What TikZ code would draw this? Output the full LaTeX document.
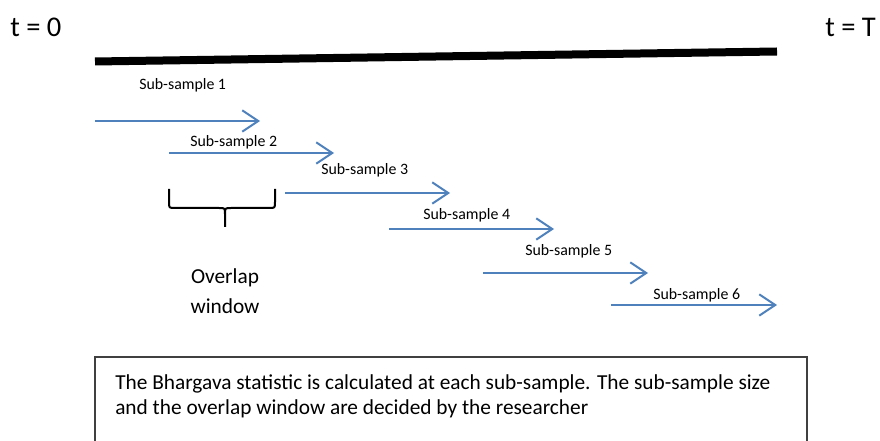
\documentclass[tikz,border=0pt]{standalone}
\usepackage{fontspec}
\setmainfont{Carlito}
\usetikzlibrary{arrows.meta}
\definecolor{subblue}{HTML}{4F81BD}
\definecolor{boxgray}{HTML}{404040}
\tikzset{
  span/.style={draw=subblue, line width=1.5pt,
    -{Straight Barb[length=12pt,width=16pt,line width=1.5pt]}},
  sublabel/.style={anchor=base west, inner sep=0pt,
    font=\fontsize{11.9pt}{14pt}\selectfont},
  endlabel/.style={anchor=base west, inner sep=0pt,
    font=\fontsize{21.4pt}{25pt}\selectfont},
  notetext/.style={anchor=base west, inner sep=0pt, align=left,
    font=\fontsize{16pt}{18.75pt}\selectfont}
}
\begin{document}
\begin{tikzpicture}[x=0.75pt,y=-0.75pt]
  \useasboundingbox (0,0) rectangle (880,441);
  \clip (0,0) rectangle (880,441);
  % time axis
  \node[endlabel] (tstart) at (10,37) {t = 0};
  \node[endlabel] (tend) at (825,37) {t = T};
  \coordinate (ax0) at (95,61.5);
  \coordinate (ax1) at (777,51.5);
  \draw[line width=6pt] (ax0) -- (ax1);
  % sub-sample arrows
  \coordinate (a1) at (95,121);  \coordinate (b1) at (260,121);
  \coordinate (a2) at (169,153); \coordinate (b2) at (334,153);
  \coordinate (a3) at (285,193); \coordinate (b3) at (450,193);
  \coordinate (a4) at (389,229); \coordinate (b4) at (554,229);
  \coordinate (a5) at (483,273); \coordinate (b5) at (648,273);
  \coordinate (a6) at (611,305); \coordinate (b6) at (777,305);
  \draw[span] (a1) -- (b1);
  \draw[span] (a2) -- (b2);
  \draw[span] (a3) -- (b3);
  \draw[span] (a4) -- (b4);
  \draw[span] (a5) -- (b5);
  \draw[span] (a6) -- (b6);
  \node[sublabel] (l1) at (139,90) {Sub-sample 1};
  \node[sublabel] (l2) at (190,147) {Sub-sample 2};
  \node[sublabel] (l3) at (321,175) {Sub-sample 3};
  \node[sublabel] (l4) at (423,220) {Sub-sample 4};
  \node[sublabel] (l5) at (525,256) {Sub-sample 5};
  \node[sublabel] (l6) at (653,299) {Sub-sample 6};
  % overlap brace
  \draw[line width=1.5pt, line join=round]
    (169,189) -- (169,202) .. controls (169,208) .. (175,208)
    -- (219,208) .. controls (225,208) .. (225,214) -- (225,227)
    (225,214) .. controls (225,208) .. (231,208)
    -- (269,208) .. controls (275,208) .. (275,202) -- (275,189);
  \node[font=\fontsize{16pt}{22.5pt}\selectfont, align=center, inner sep=0pt,
    anchor=base] (overlap) at (225,313) {Overlap\\window};
  % note box
  \draw[boxgray, line width=1.2pt] (95,460) -- (95,357) -- (807,357) -- (807,460);
  \node[notetext] (note) at (115,414)
    {The Bhargava statistic is calculated at each sub-sample. The sub-sample size\\
     and the overlap window are decided by the researcher};
\end{tikzpicture}
\end{document}
